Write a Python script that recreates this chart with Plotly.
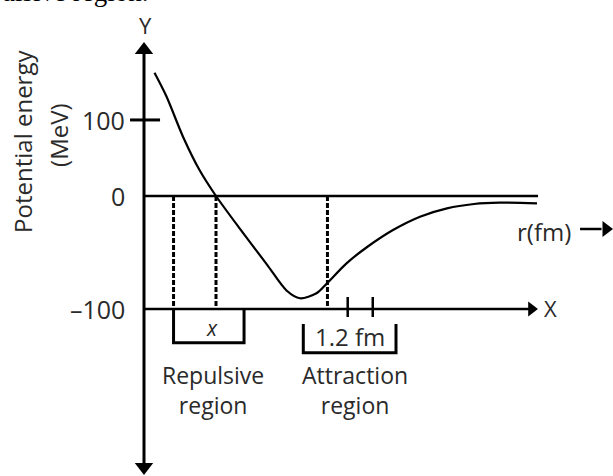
import plotly.graph_objects as go

# schematic nuclear potential: r in fm, U in MeV (picture scale: 150 px/fm, 1.13 px/MeV)
r_fm = [0.07, 0.15, 0.26, 0.37, 0.48, 0.64, 0.82, 0.95, 1.04, 1.15, 1.22,
        1.35, 1.49, 1.66, 1.84, 2.02, 2.20, 2.37, 2.62]
u_mev = [109, 88, 52.5, 23, 0, -29.1, -60.7, -83.6, -90.5, -86.1, -77.3,
         -59.6, -44.9, -30.1, -18.3, -10.9, -7.1, -5.9, -6.5]

tick_pos = [67.3, 0, -100]
tick_text = ["100", "0", "\u2013100"]

dashed_r = [0.197, 0.48, 1.223]
small_ticks_r = [1.358, 1.525]

W, H = 613, 476
X_RANGE = [-144 / 150, (W - 144) / 150]
Y_RANGE = [(196 - H) / 1.13, 196 / 1.13]

FONT = "Open Sans"
TXT = "#2a2a2a"
LINE = "black"

fig = go.Figure()


def seg(xs, ys, width=3, dash=None):
    fig.add_trace(go.Scatter(x=xs, y=ys, mode="lines",
                             line=dict(color=LINE, width=width, dash=dash),
                             hoverinfo="skip"))


def head(x, y, symbol, size):
    fig.add_trace(go.Scatter(x=[x], y=[y], mode="markers",
                             marker=dict(symbol=symbol, size=size, color=LINE,
                                         line=dict(width=0)),
                             hoverinfo="skip"))


def label(x, y, text, size=22, **kw):
    fig.add_annotation(x=x, y=y, text=text, showarrow=False,
                       font=dict(family=FONT, size=size, color=TXT), **kw)


# axes
seg([0, 0], [129.2, -239.8], width=3)
head(0, 129.2, "triangle-up", 16)
head(0, -239.8, "triangle-down", 16)
seg([0, 2.627], [0, 0], width=2.5)
seg([0, 2.58], [-100, -100], width=2.5)
head(2.583, -100, "triangle-right", 13)
seg([-0.093, 0.107], [tick_pos[0], tick_pos[0]], width=3)
for r in small_ticks_r:
    seg([r, r], [-89.4, -107.1], width=2.5)

# dashed guides
for r in dashed_r:
    seg([r, r], [0, -100], width=3, dash="5px,2px")

# brackets
seg([0.197, 0.197, 0.667, 0.667], [-100, -129.8, -129.8, -100], width=3)
seg([1.062, 1.062, 1.68, 1.68], [-113.3, -138.7, -138.7, -113.3], width=3)

# potential curve
fig.add_trace(go.Scatter(x=r_fm, y=u_mev, mode="lines",
                         line=dict(color=LINE, width=2.2, shape="spline", smoothing=0.8),
                         hoverinfo="skip"))

# r(fm) arrow
seg([2.907, 3.05], [-29.2, -29.2], width=2.5)
head(3.08, -29.2, "triangle-right", 14)

# text
for v, t in zip(tick_pos, tick_text):
    label(-0.113, v, t, size=25, xanchor="right")
label(0.013, 151.3, "Y", size=22)
label(2.713, -99.1, "X", size=22)
label(2.667, -31, "r(fm)", size=24)
label(-0.807, 48.7, "Potential energy", size=24, textangle=-90)
label(-0.567, 54, "(MeV)", size=24, textangle=-90)
label(0.453, -116.8, "<i>x</i>", size=21)
label(1.373, -124.5, "1.2 fm", size=24)
label(0.46, -171.5, "Repulsive<br>region", size=23)
label(1.407, -171.5, "Attraction<br>region", size=23)
# tail of the caption line above the figure, cut by the top edge
fig.add_annotation(xref="paper", yref="paper", x=150 / W, y=1.0165,
                   text="Repulsive region.", showarrow=False,
                   xanchor="right", yanchor="middle",
                   font=dict(family="Liberation Serif", size=27, color="black"))

fig.update_xaxes(range=X_RANGE, visible=False)
fig.update_yaxes(range=Y_RANGE, visible=False)
fig.update_layout(width=W, height=H, margin=dict(l=0, r=0, t=0, b=0),
                  plot_bgcolor="white", paper_bgcolor="white", showlegend=False)

fig.write_html("out.html", config={"displayModeBar": False},
               post_script="document.body.style.margin='0px';")
